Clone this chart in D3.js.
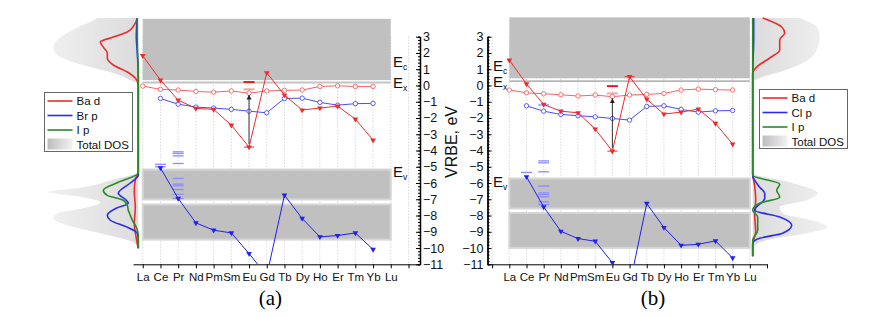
<!DOCTYPE html>
<html>
<head>
<meta charset="utf-8">
<script src="https://cdn.jsdelivr.net/npm/d3@7"></script>
<style>
  body { margin: 0; background: #fff; }
  svg text { font-family: "Liberation Sans", Arial, sans-serif; }
</style>
</head>
<body>
<div class="usable"></div>
<script>
// categorias y ticks
const lanthanides = ["La", "Ce", "Pr", "Nd", "Pm", "Sm", "Eu", "Gd", "Tb", "Dy", "Ho", "Er", "Tm", "Yb", "Lu"];
const energyTicks = d3.range(-11, 4);
const minorTicks = d3.range(-11, 3.001, 0.2);

// panel (a): Ba d / Br p / I p
const aRedOpen = [-0.04, -0.24, -0.28, -0.37, -0.41, -0.34, -0.47, -0.34, -0.30, -0.28, -0.06, -0.02, -0.06, -0.06];
const aBlueOpen = [null, -0.80, -1.15, -1.33, -1.39, -1.47, -1.58, -1.68, -0.80, -0.78, -1.04, -1.21, -1.12, -1.10];
const aRedTri = [1.83, 0.33, -0.90, -1.41, -1.47, -2.44, -3.79, 0.78, -0.59, -1.51, -1.39, -1.27, -2.07, -3.36];
const aBlueTri = [null, -5.07, -6.95, -8.45, -8.90, -9.07, -10.34, -11.7, -6.75, -8.18, -9.31, -9.23, -9.07, -10.09];
const aCeLevels = [-4.85, -5.0];
const aPrLevels = [-4.08, -4.18, -4.33, -4.80, -5.72, -6.07, -6.17, -6.40, -6.69, -6.95];
const aEuLevels = [0.21, -0.24];
const aConduction = [0.33, 4.1];
const aValence = [[-7.01, -5.17], [-9.48, -7.32]];
const aEx = 0.19;

// panel (b): Ba d / Cl p / I p
const bRedOpen = [-0.28, -0.45, -0.51, -0.57, -0.65, -0.59, -0.69, -0.59, -0.55, -0.49, -0.28, -0.22, -0.26, -0.28];
const bBlueOpen = [null, -1.25, -1.58, -1.78, -1.86, -1.93, -2.03, -2.13, -1.29, -1.25, -1.47, -1.64, -1.56, -1.54];
const bRedTri = [1.56, 0.09, -1.17, -1.58, -1.68, -2.68, -4.04, 0.54, -0.84, -1.76, -1.64, -1.45, -2.33, -3.61];
const bBlueTri = [null, -5.62, -7.47, -8.97, -9.42, -9.58, -10.90, -12.3, -7.26, -8.74, -9.83, -9.77, -9.56, -10.61];
const bCeLevels = [-5.35];
const bPrLevels = [-1.2, -4.64, -4.76, -5.31, -6.19, -6.61, -6.71, -6.85, -7.16, -7.32];
const bEuLevels = [-0.04, -0.49];
const bConduction = [0.44, 4.19];
const bValence = [[-7.57, -5.72], [-9.99, -7.84]];
const bEx = 0.27;

// DOS: [energia, densidad]
const aDosTotal = [[4.15, 41], [4.03, 44], [3.6, 60], [3.23, 71], [2.80, 81], [2.36, 85], [2.0, 83], [1.56, 71], [1.13, 48], [0.76, 25], [0.33, 8], [0.02, 0],
  [-5.33, 0], [-5.8, 25], [-6.26, 55], [-6.56, 90], [-6.87, 55], [-7.18, 38], [-7.55, 55], [-7.86, 81], [-8.17, 85], [-8.60, 71], [-9.09, 38], [-9.65, 5], [-10.02, 0]];
const aDosBa = [[4.15, 1], [3.72, 4], [3.29, 11], [2.98, 25], [2.67, 38], [2.36, 35], [2.0, 31], [1.69, 31], [1.26, 25], [0.83, 11], [0.46, 3], [0.02, 0],
  [-5.3, 0], [-5.8, 3], [-6.5, 4], [-7.5, 3], [-8.5, 4], [-9.4, 2], [-10.02, 0]];
const aDosX = [[4.15, 1], [3.0, 2], [2.0, 1], [0.5, 0], [-5.53, 0], [-6.0, 8], [-6.63, 20], [-7.06, 12], [-7.24, 10], [-7.55, 22], [-7.98, 31], [-8.29, 28], [-8.72, 11], [-9.09, 1], [-9.5, 0], [-10.02, 0]];
const aDosI = [[4.15, 1], [3.0, 1], [0.5, 0], [-5.39, 0], [-5.95, 20], [-6.44, 35], [-6.76, 31], [-7.06, 15], [-7.37, 11], [-7.67, 10], [-7.98, 8], [-8.29, 6], [-8.72, 2], [-9.2, 0], [-10.02, 0]];

const bDosTotal = [[4.15, 47], [3.53, 65], [2.98, 67], [2.18, 64], [1.38, 50], [0.83, 27], [0.46, 7], [0.21, 0],
  [-5.39, 0], [-5.95, 37], [-6.63, 65], [-7.06, 54], [-7.49, 27], [-7.86, 30], [-8.41, 67], [-8.72, 75], [-9.09, 54], [-9.52, 14], [-9.95, 0]];
const bDosBa = [[4.15, 10], [3.6, 29], [3.23, 32], [2.80, 27], [2.18, 27], [1.69, 17], [1.13, 4], [0.76, 0],
  [-5.4, 0], [-6.2, 2], [-7.0, 3], [-8.0, 2], [-9.0, 3], [-9.8, 0], [-10.5, 0]];
const bDosX = [[4.15, 1], [3.0, 1], [0.5, 0], [-5.53, 0], [-6.26, 7], [-6.63, 12], [-6.93, 12], [-7.67, 2], [-8.09, 27], [-8.6, 39], [-9.09, 30], [-9.4, 7], [-9.7, 0], [-10.5, 0]];
const bDosI = [[4.15, 0], [0.5, 0], [-5.53, 0], [-6.07, 27], [-6.44, 24], [-6.87, 27], [-7.24, 7], [-7.67, 0], [-8.09, 5], [-8.9, 5], [-9.52, 0], [-10.5, 0]];

const red = "#f02a2a", blue = "#2a2af0", green = "#2a8a2a";

let creador = d3.select(".usable").append("svg")
    .attr("width", 889)
    .attr("height", 318);

let defs = creador.append("defs");

// gradientes del DOS total
function gradiente(id, x1, x2, c1, c2) {
    let g = defs.append("linearGradient").attr("id", id)
        .attr("x1", x1).attr("x2", x2).attr("y1", 0).attr("y2", 0);
    g.append("stop").attr("offset", "0%").attr("stop-color", c1);
    g.append("stop").attr("offset", "100%").attr("stop-color", c2);
}
gradiente("dosA", 0, 1, "#f0f0f0", "#dcdcdc");
gradiente("dosB", 0, 1, "#dcdcdc", "#f0f0f0");
gradiente("legSw", 0, 1, "#bdbdbd", "#f2f2f2");

const y = d3.scaleLinear().domain([-11, 3]).range([264.3, 36.7]);

function drawPanel(p) {
    const x = d3.scaleLinear().domain(p.xDomain).range(p.xRange);
    const g = creador.append("g");
    const cats = d3.range(lanthanides.length);

    // lineas de grilla punteadas
    g.append("g").selectAll("line").data(p.gridPos).join("line")
        .attr("x1", d => x(d)).attr("x2", d => x(d))
        .attr("y1", y(3)).attr("y2", y(-11))
        .style("stroke", "#c8c8c8")
        .style("stroke-dasharray", "1,2");

    // bandas
    const xa = x(0), xb = x(14);
    g.append("rect")
        .attr("x", xa).attr("width", xb - xa)
        .attr("y", y(p.conduction[1])).attr("height", y(p.conduction[0]) - y(p.conduction[1]))
        .style("fill", "#c0c0c0");
    g.append("g").selectAll("rect").data(p.valence).join("rect")
        .attr("x", xa).attr("width", xb - xa)
        .attr("y", d => y(d[1])).attr("height", d => y(d[0]) - y(d[1]))
        .style("fill", "#c0c0c0")
        .style("stroke", "#d6d6d6")
        .style("stroke-width", 2);
    g.append("line")
        .attr("x1", xa).attr("x2", xb)
        .attr("y1", y(p.ex)).attr("y2", y(p.ex))
        .style("stroke", p.exColor)
        .style("stroke-width", p.exWidth);

    // etiquetas E
    function etiquetaE(sub, val, xx) {
        const t = g.append("text").attr("x", xx).attr("y", y(val))
            .style("font-size", "15px").style("fill", "#111");
        t.append("tspan").text("E");
        t.append("tspan").text(sub).attr("dy", 3).style("font-size", "8.5px");
    }
    etiquetaE("c", p.eLabels[0], p.eLabelX);
    etiquetaE("x", p.eLabels[1], p.eLabelX);
    etiquetaE("v", p.eLabels[2], p.eLabelX);

    // ejes
    const xAxis = d3.axisBottom(x)
        .tickValues(p.xTicks)
        .tickFormat(d => lanthanides[d] || "")
        .tickSizeInner(4).tickSizeOuter(0).tickPadding(5);
    const ax = g.append("g").attr("transform", `translate(0,${y(-11)})`).call(xAxis);
    ax.selectAll("text").style("font-size", "11.5px").style("fill", "#111");

    let yAxis, yMinor;
    if (p.axisSide === "right") {
        yAxis = d3.axisRight(y).tickValues(energyTicks).tickSizeInner(-4).tickSizeOuter(0).tickPadding(3);
        yMinor = d3.axisRight(y).tickValues(minorTicks).tickSize(-2).tickFormat("");
    } else {
        yAxis = d3.axisLeft(y).tickValues(energyTicks).tickSizeInner(-4).tickSizeOuter(0).tickPadding(4);
        yMinor = d3.axisLeft(y).tickValues(minorTicks).tickSize(-2).tickFormat("");
    }
    g.append("g").attr("transform", `translate(${p.axisX},0)`).call(yMinor);
    const ay = g.append("g").attr("transform", `translate(${p.axisX},0)`).call(yAxis);
    ay.selectAll("text").style("font-size", "12.5px").style("fill", "#111");
    ay.select(".domain").style("stroke-width", 1.5);

    // series
    const clipId = "clip" + p.id;
    creador.select("defs").append("clipPath").attr("id", clipId)
        .append("rect").attr("x", 0).attr("y", 0).attr("width", 889).attr("height", y(-11));
    const s = g.append("g").attr("clip-path", `url(#${clipId})`);

    // niveles 4f (guiones)
    function guiones(idx, vals, color, w, sw) {
        s.append("g").selectAll("line").data(vals).join("line")
            .attr("x1", x(idx) - w / 2).attr("x2", x(idx) + w / 2)
            .attr("y1", d => y(d)).attr("y2", d => y(d))
            .style("stroke", color).style("stroke-width", sw);
    }
    guiones(1, p.ceLevels, "#8c8cff", 11, 1.3);
    guiones(2, p.prLevels, "#8c8cff", 11, 1.3);
    guiones(6, [p.euLevels[0]], "#ee1a1a", 11, 2);
    guiones(6, [p.euLevels[1]], "#f5a0a0", 11, 2);
    p.caps.forEach(i => guiones(i, [p.redTri[i]], red, 10, 1));

    const line = d3.line()
        .defined(d => d[1] !== null)
        .x(d => x(d[0])).y(d => y(d[1]));

    function serie(vals, color, marker) {
        const pts = cats.map(i => [i, i < vals.length ? vals[i] : null]);
        s.append("path").datum(pts).attr("d", line)
            .style("fill", "none").style("stroke", color).style("stroke-width", 1);
        const pv = pts.filter(d => d[1] !== null && d[1] >= -11);
        if (marker === "circle") {
            s.append("g").selectAll("circle").data(pv).join("circle")
                .attr("cx", d => x(d[0])).attr("cy", d => y(d[1])).attr("r", 2.2)
                .style("fill", "#fff").style("stroke", color).style("stroke-width", 0.9);
        } else {
            s.append("g").selectAll("path").data(pv).join("path")
                .attr("d", d3.symbol(d3.symbolTriangle, 14))
                .attr("transform", d => `translate(${x(d[0])},${y(d[1])}) rotate(180)`)
                .style("fill", color);
        }
    }
    serie(p.redOpen, "#ff6060", "circle");
    serie(p.blueOpen, "#4a4aff", "circle");
    serie(p.redTri, red, "tri");
    serie(p.blueTri, "#2020f0", "tri");

    // flecha Eu
    s.append("line")
        .attr("x1", x(6)).attr("x2", x(6))
        .attr("y1", y(p.redTri[6]) - 3).attr("y2", y(p.redOpen[6] - 0.12))
        .style("stroke", "#333").style("stroke-width", 1)
        .attr("marker-end", "url(#flecha)");

    // etiqueta del panel
    creador.append("text")
        .attr("x", x(p.tagPos)).attr("y", 305)
        .attr("text-anchor", "middle")
        .style("font-family", "'Liberation Serif', 'Times New Roman', serif")
        .style("font-size", "21px")
        .text(p.tag);
}

defs.append("marker").attr("id", "flecha")
    .attr("viewBox", "0 0 10 10").attr("refX", 9).attr("refY", 5)
    .attr("markerWidth", 5).attr("markerHeight", 6).attr("orient", "auto")
    .append("path").attr("d", "M0,0 L10,5 L0,10 z").style("fill", "#222");

function drawDos(d) {
    const dx = d3.scaleLinear().domain([0, 100]).range([0, 100 * d.dir]);
    const g = creador.append("g");
    const area = d3.area()
        .y(v => y(v[0]))
        .x0(d.base)
        .x1(v => d.base + dx(v[1]))
        .curve(d3.curveMonotoneY);
    g.append("path").datum(d.total).attr("d", area)
        .style("fill", `url(#${d.grad})`);
    const line = d3.line()
        .y(v => y(v[0]))
        .x(v => d.base + dx(v[1]))
        .curve(d3.curveMonotoneY);
    [[d.ba, red], [d.x, blue], [d.i, green]].forEach(par => {
        g.append("path").datum(par[0]).attr("d", line)
            .style("fill", "none").style("stroke", par[1]).style("stroke-width", 1.6);
    });

    // leyenda
    const lg = creador.append("g").attr("transform", `translate(${d.legend[0]},${d.legend[1]})`);
    lg.append("rect").attr("width", 88).attr("height", 59)
        .style("fill", "#fff").style("stroke", "#666").style("stroke-width", 1);
    const items = [["Ba d", red], [d.xName, blue], ["I p", green]];
    items.forEach((it, k) => {
        lg.append("line").attr("x1", 3).attr("x2", 28)
            .attr("y1", 8.5 + k * 14.5).attr("y2", 8.5 + k * 14.5)
            .style("stroke", it[1]).style("stroke-width", 1.6);
        lg.append("text").attr("x", 32).attr("y", 12.5 + k * 14.5)
            .style("font-size", "11.5px").style("fill", "#111").text(it[0]);
    });
    lg.append("rect").attr("x", 3).attr("y", 46).attr("width", 25).attr("height", 11)
        .style("fill", "url(#legSw)");
    lg.append("text").attr("x", 32).attr("y", 56)
        .style("font-size", "11.5px").style("fill", "#111").text("Total DOS");
}

drawPanel({
    id: "a", xDomain: [-0.55, 15.65], xRange: [133, 420],
    gridPos: d3.range(0, 16), xTicks: d3.range(0, 16),
    axisSide: "right", axisX: 420,
    conduction: aConduction, valence: aValence, ex: aEx, exColor: "#c4c4c4", exWidth: 2,
    eLabels: [1.16, -0.16, -5.64], eLabelX: 393,
    redOpen: aRedOpen, blueOpen: aBlueOpen, redTri: aRedTri, blueTri: aBlueTri,
    ceLevels: aCeLevels, prLevels: aPrLevels, euLevels: aEuLevels, caps: [6],
    tag: "(a)", tagPos: 7.2
});

drawPanel({
    id: "b", xDomain: [-1.27, 15], xRange: [487.5, 767],
    gridPos: d3.range(-1, 15), xTicks: d3.range(-1, 16),
    axisSide: "left", axisX: 487.5,
    conduction: bConduction, valence: bValence, ex: bEx, exColor: "#808080", exWidth: 1,
    eLabels: [0.9, -0.1, -6.25], eLabelX: 493,
    redOpen: bRedOpen, blueOpen: bBlueOpen, redTri: bRedTri, blueTri: bBlueTri,
    ceLevels: bCeLevels, prLevels: bPrLevels, euLevels: bEuLevels, caps: [6, 7],
    tag: "(b)", tagPos: 8.36
});

drawDos({ base: 138.3, dir: -1, grad: "dosA", total: aDosTotal, ba: aDosBa, x: aDosX, i: aDosI, xName: "Br p", legend: [44.5, 92.5] });
drawDos({ base: 752.7, dir: 1, grad: "dosB", total: bDosTotal, ba: bDosBa, x: bDosX, i: bDosI, xName: "Cl p", legend: [759.5, 89.5] });

// titulo del eje
creador.append("text")
    .attr("transform", "translate(457,142) rotate(-90)")
    .attr("text-anchor", "middle")
    .style("font-size", "16px")
    .style("fill", "#111")
    .text("VRBE, eV");
</script>
</body>
</html>
